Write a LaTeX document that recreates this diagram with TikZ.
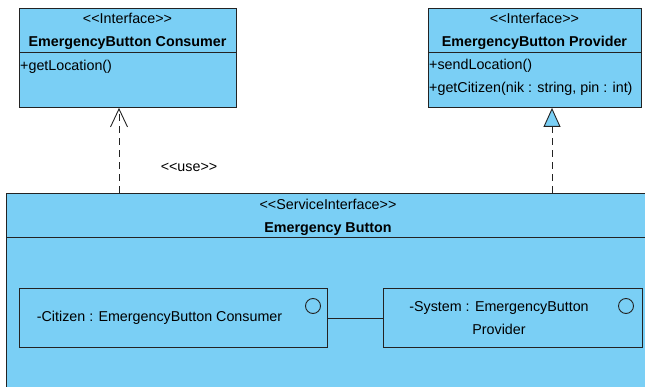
\documentclass[tikz,border=0pt]{standalone}
\usepackage{fontspec}
\setmainfont{Liberation Sans}[Ligatures=TeXOff]
\usetikzlibrary{positioning,arrows.meta}

\definecolor{umlblue}{RGB}{122,207,245}
\definecolor{umlline}{RGB}{35,35,35}

\tikzset{
  classbox/.style={draw=umlline, fill=umlblue, line width=0.9pt, inner sep=0pt, anchor=north west},
  txt/.style={inner sep=0pt, text height=10.5pt, text depth=3pt, font=\fontsize{14.3}{17}\selectfont},
  classname/.style={txt, font=\fontsize{14.3}{17}\selectfont\bfseries},
  port/.style={circle, draw=umlline, line width=0.9pt, minimum size=15pt, inner sep=0pt},
  dep/.style={draw=umlline, line width=0.9pt, dash pattern=on 7pt off 5pt},
}

\begin{document}
\begin{tikzpicture}[x=1pt,y=-1pt]
        \useasboundingbox (0,0) rectangle (645,387);
        \clip (0,0) rectangle (645,387);

        % Interfaces
        \node[classbox, minimum width=217pt, minimum height=99pt] (consumer) at (19,8) {};
        \draw[umlline, line width=0.9pt] (19,52) -- (236,52);
        \node[txt] (consumertype) at (127.5,20) {<<Interface>>};
        \node[classname, below=8.5pt of consumertype] (consumername) {EmergencyButton Consumer};
        \node[txt, anchor=west] (getloc) at (20,67) {+getLocation()};

        \node[classbox, minimum width=213pt, minimum height=99pt] (provider) at (428,8) {};
        \draw[umlline, line width=0.9pt] (428,52) -- (641,52);
        \node[txt] (providertype) at (534.5,20) {<<Interface>>};
        \node[classname, below=8.5pt of providertype] (providername) {EmergencyButton Provider};
        \node[txt, anchor=west] (sendloc) at (429,66) {+sendLocation()};
        \node[txt, below=8.5pt of sendloc.south west, anchor=north west] (getcit) {+getCitizen(nik : string, pin : int)};

        % Service interface, runs past the page edge
        \node[classbox, minimum width=660pt, minimum height=210pt] (service) at (6,193) {};
        \draw[umlline, line width=0.9pt] (6,237) -- (670,237);
        \node[txt] (servicetype) at (328,206) {<<ServiceInterface>>};
        \node[classname, below=8.5pt of servicetype] (servicename) {Emergency Button};

        % Parts
        \node[classbox, minimum width=308pt, minimum height=59pt] (citizen) at (19,288) {};
        \node[classbox, minimum width=259pt, minimum height=59pt] (system) at (383,288) {};
        \node[port] (citizenport) at (313,306) {};
        \node[port] (systemport) at (626,306) {};
        \node[txt] (citizenlabel) at (159.5,318) {-Citizen : EmergencyButton Consumer};
        \node[txt] (systemlabel) at (499,308) {-System : EmergencyButton};
        \node[txt, below=8.5pt of systemlabel] (systemlabel2) {Provider};
        \draw[umlline, line width=0.9pt] (citizen.east) -- (system.west);

        % Dependencies
        \coordinate (usefoot) at (119,193);
        \coordinate (realfoot) at (552,193);
        \draw[dep, -{Straight Barb[length=18pt, width=17pt]}] (usefoot) -- (usefoot |- consumer.south);
        \draw[dep, -{Triangle[length=19pt, width=17pt, fill=umlblue]}] (realfoot) -- (realfoot |- provider.south);
        \node[txt] (uselabel) at (189,168) {<<use>>};
        \end{tikzpicture}
\end{document}
